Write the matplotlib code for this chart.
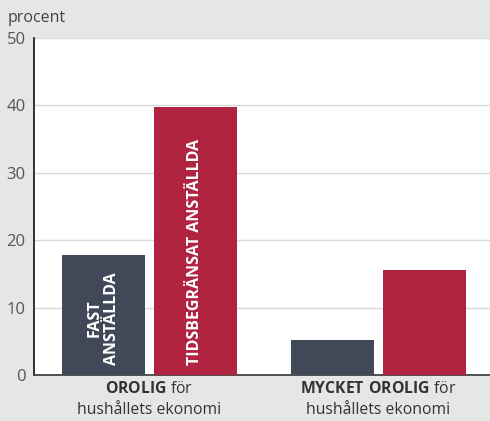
import numpy as np
import matplotlib
matplotlib.use('Agg')
import matplotlib.pyplot as plt

plt.rcParams['font.family'] = ['Open Sans', 'DejaVu Sans']
plt.rcParams['mathtext.fontset'] = 'custom'
plt.rcParams['mathtext.rm'] = 'Open Sans'
plt.rcParams['mathtext.bf'] = 'Open Sans:bold'

# data
groups = [r'$\mathbf{OROLIG}$ för' + '\nhushållets ekonomi',
          r'$\mathbf{MYCKET\ OROLIG}$ för' + '\nhushållets ekonomi']
fast = [17.8, 5.2]
tids = [39.8, 15.6]
series_labels = ['FAST\nANSTÄLLDA', 'TIDSBEGRÄNSAT ANSTÄLLDA']
yticks = [0, 10, 20, 30, 40, 50]

bg = '#e6e6e7'
dark = '#414858'
red = '#b1243f'

fig = plt.figure(figsize=(4.9, 4.21), dpi=100, facecolor=bg)
ax = fig.add_axes([34/490, 46/421, 456/490, 337/421])
ax.set_facecolor('white')

x = np.arange(len(groups))
w = 0.362
off = 0.2009
b1 = ax.bar(x - off, fast, w, color=dark, zorder=3)
b2 = ax.bar(x + off, tids, w, color=red, zorder=3)

# labels inside first group bars
ax.text(x[0] - off, 1.5, series_labels[0], rotation=90, color='white', fontweight='bold',
        fontsize=11.5, ha='center', va='bottom', linespacing=1.15, zorder=4)
ax.text(x[0] + off, 1.5, series_labels[1], rotation=90, color='white', fontweight='bold',
        fontsize=11.5, ha='center', va='bottom', zorder=4)

ax.set_xlim(-0.504, 1.487)
ax.set_ylim(0, 50)
ax.set_yticks(yticks)
ax.set_yticklabels([str(t) for t in yticks], fontsize=12, color='#555555')
ax.grid(axis='y', color='#d9d9d9', linewidth=1, zorder=0)
ax.set_xticks(x)
ax.set_xticklabels(groups, fontsize=11.3, color='#333333', linespacing=1.45)
ax.tick_params(axis='both', length=0, pad=4)
ax.tick_params(axis='y', pad=6)

for s in ['top', 'right']:
    ax.spines[s].set_visible(False)
ax.spines['left'].set_color('#222222')
ax.spines['left'].set_linewidth(1.3)
ax.spines['bottom'].set_color('#444444')
ax.spines['bottom'].set_linewidth(1.3)

fig.text(8/490, 1 - 18/421, 'procent', fontsize=11.5, color='#444444', va='center', ha='left')

fig.savefig('out.png', dpi=100, facecolor=bg)
